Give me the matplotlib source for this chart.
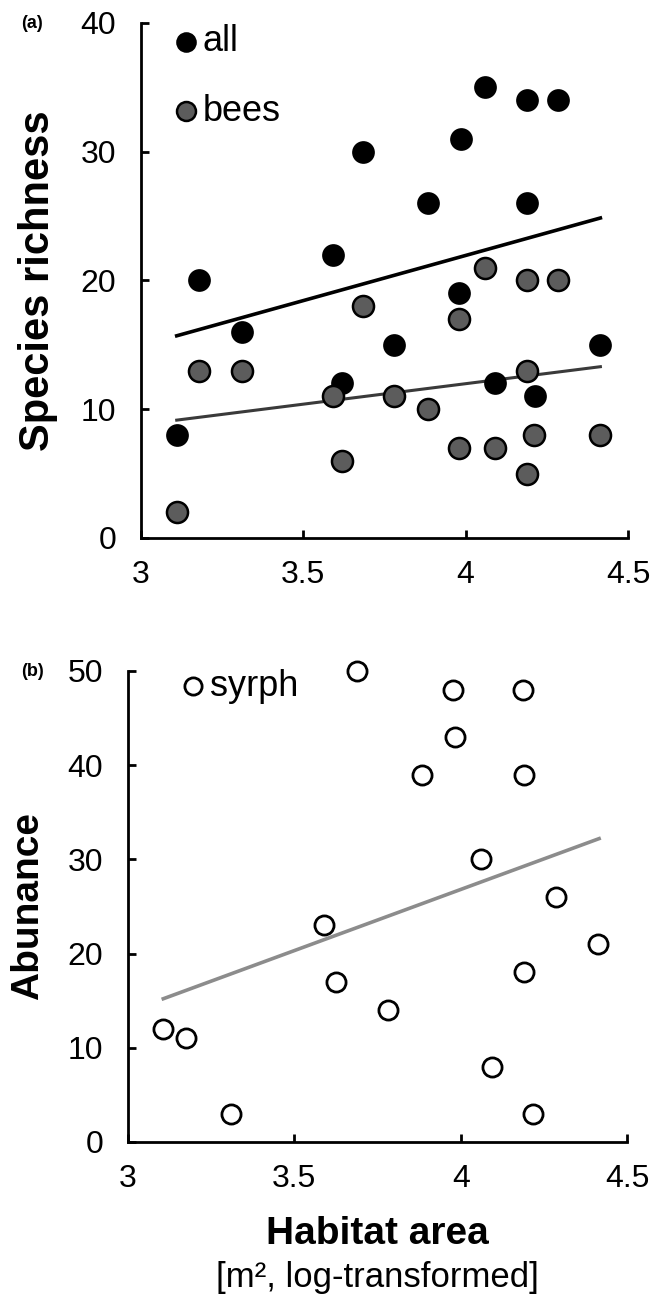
import numpy as np
import matplotlib.pyplot as plt

plt.rcParams['font.family'] = ['Liberation Sans', 'DejaVu Sans']

# habitat area (log) for each site
x_all = [3.11, 3.18, 3.31, 3.59, 3.62, 3.685, 3.78, 3.885, 3.98, 3.985,
         4.06, 4.09, 4.19, 4.19, 4.215, 4.285, 4.415]
rich_all = [8, 20, 16, 22, 12, 30, 15, 26, 19, 31, 35, 12, 34, 26, 11, 34, 15]

x_bees = [3.11, 3.18, 3.31, 3.59, 3.62, 3.685, 3.78, 3.885, 3.98, 3.98,
          4.06, 4.09, 4.19, 4.19, 4.19, 4.21, 4.285, 4.415]
rich_bees = [2, 13, 13, 11, 6, 18, 11, 10, 17, 7, 21, 7, 13, 5, 20, 8, 20, 8]

x_syrph = [3.105, 3.175, 3.31, 3.59, 3.625, 3.687, 3.78, 3.885, 3.978, 3.982,
           4.06, 4.093, 4.187, 4.19, 4.19, 4.217, 4.285, 4.413]
abund_syrph = [12, 11, 3, 23, 17, 50, 14, 39, 48, 43, 30, 8, 48, 39, 18, 3, 26, 21]

# fitted lines (end points)
fit_x = [3.11, 4.415]
fit_all = [15.7, 24.85]
fit_bees = [9.15, 13.3]
fit_x_syrph = [3.106, 4.416]
fit_syrph = [15.2, 32.2]

xticks = [3, 3.5, 4, 4.5]
xticklabels = ['3', '3.5', '4', '4.5']


def style_axes(ax):
    for s in ['top', 'right']:
        ax.spines[s].set_visible(False)
    for s in ['left', 'bottom']:
        ax.spines[s].set_linewidth(2.0)
    ax.tick_params(direction='in', length=6, width=2.0, labelsize=23)
    ax.tick_params(axis='y', pad=18)
    ax.tick_params(axis='x', pad=16)
    ax.set_xlim(3, 4.5)
    ax.set_xticks(xticks)
    ax.set_xticklabels(xticklabels)


fig = plt.figure(figsize=(6.62, 12.95), dpi=100)

# ---- (a) species richness
ax1 = fig.add_axes([0.2130, 0.5846, 0.7356, 0.3977])
style_axes(ax1)
ax1.set_ylim(0, 40)
ax1.set_yticks([0, 10, 20, 30, 40])
ax1.plot(fit_x, fit_all, color='black', lw=2.6, zorder=2)
ax1.plot(fit_x, fit_bees, color='#3a3a3a', lw=2.2, zorder=2)
sc_all = ax1.scatter(x_all, rich_all, s=230, color='black', edgecolor='black',
                     linewidth=1.2, zorder=3, clip_on=False, label='all')
sc_bees = ax1.scatter(x_bees, rich_bees, s=230, color='#5c5c5c', edgecolor='black',
                      linewidth=1.8, zorder=4, clip_on=False, label='bees')
ax1.set_ylabel('Species richness', fontsize=30, fontweight='bold')
ax1.yaxis.set_label_coords(-0.17, 0.5)
ax1.legend(handles=[sc_all, sc_bees], loc='upper left', bbox_to_anchor=(0.06, 0.997),
           frameon=False, fontsize=26, handlelength=0.85, handletextpad=0.05,
           labelspacing=0.95, borderpad=0, borderaxespad=0, markerscale=0.9)
fig.text(32 / 662, 1 - 23 / 1295, '(a)', fontsize=13, fontweight='bold',
         ha='center', va='center')

# ---- (b) syrphid abundance
ax2 = fig.add_axes([0.1934, 0.1182, 0.7538, 0.3637])
style_axes(ax2)
ax2.set_ylim(0, 50)
ax2.set_yticks([0, 10, 20, 30, 40, 50])
ax2.plot(fit_x_syrph, fit_syrph, color='#8c8c8c', lw=2.6, zorder=2)
sc_syrph = ax2.scatter(x_syrph, abund_syrph, s=190, facecolor='white',
                       edgecolor='black', linewidth=2.0, zorder=3, clip_on=False,
                       label='syrph')
ax2.set_ylabel('Abunance', fontsize=28, fontweight='bold')
ax2.yaxis.set_label_coords(-0.165, 0.5)
ax2.set_xlabel('Habitat area', fontsize=28, fontweight='bold', labelpad=16)
ax2.text(0.5, -0.252, '[m², log-transformed]', transform=ax2.transAxes,
         ha='center', va='top', fontsize=25)
ax2.legend(handles=[sc_syrph], loc='upper left', bbox_to_anchor=(0.1, 1.005),
           frameon=False, fontsize=26, handlelength=0.85, handletextpad=0.05,
           borderpad=0, borderaxespad=0, markerscale=0.9)
fig.text(32 / 662, 1 - 671 / 1295, '(b)', fontsize=13, fontweight='bold',
         ha='center', va='center')

fig.savefig('out.png', dpi=100)
